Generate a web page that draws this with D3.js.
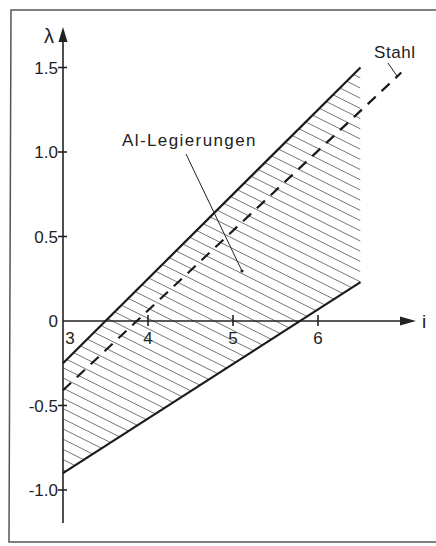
<!DOCTYPE html>
<html>
<head>
<meta charset="utf-8">
<script src="https://cdn.jsdelivr.net/npm/d3@7"></script>
<style>
  body { margin: 0; background: #fff; }
  text { font-family: "Liberation Sans", Arial, sans-serif; fill: #222; }
</style>
</head>
<body>
<svg></svg>
<script>
// chart data
const xTicks = [3, 4, 5, 6];
const yTicks = [-1.0, -0.5, 0, 0.5, 1.0, 1.5];
const yTickLabels = ['-1.0', '-0.5', '0', '0.5', '1.0', '1.5'];
const alUpper = [[3, -0.25], [6.5, 1.5]];   // upper edge of Al band
const alLower = [[3, -0.9], [6.5, 0.23]];   // lower edge of Al band
const stahl = [[3, -0.41], [6.98, 1.47]];    // dashed steel line

const size = {w: 436, h: 546};
const svg = d3.select('svg')
    .attr('width', size.w)
    .attr('height', size.h);

// scales: 3 sits on the y axis, 0 on the x axis
const x = d3.scaleLinear().domain([3, 6]).range([63, 318]);
const y = d3.scaleLinear().domain([0, 1.5]).range([321, 67.5]);

// outer frame (right side runs off the picture)
svg.append('path')
    .attr('d', 'M440,10 L11,10 L9,542 L440,542')
    .attr('fill', 'none')
    .attr('stroke', '#555')
    .attr('stroke-width', 1.5);

// hatched band between the two solid lines
const band = alUpper.concat(alLower.slice().reverse());
svg.append('clipPath').attr('id', 'bandClip')
    .append('polygon')
    .attr('points', band.map(d => [x(d[0]), y(d[1])].join(',')).join(' '));

const hatchG = svg.append('g').attr('clip-path', 'url(#bandClip)');
const x0 = x(3), x1 = x(6.5);
const slope = 0.5;   // hatch lines fall to the right
// y of each hatch line where it meets the y axis
let starts = d3.range(y(1.5) - slope * (x1 - x0) - 10, y(-0.9) + 10, 10.2);
hatchG.selectAll('line')
    .data(starts)
    .enter()
    .append('line')
    .attr('x1', x0)
    .attr('y1', d => d)
    .attr('x2', x1)
    .attr('y2', d => d + slope * (x1 - x0))
    .attr('stroke', '#666')
    .attr('stroke-width', 0.9);

// axes
const axisG = svg.append('g').attr('stroke', '#222').attr('stroke-width', 1.6);
axisG.append('line')
    .attr('x1', x(3)).attr('x2', x(3))
    .attr('y1', 523).attr('y2', 40);
axisG.append('line')
    .attr('x1', x(3)).attr('x2', 402)
    .attr('y1', y(0)).attr('y2', y(0));

svg.append('path')   // y arrow head
    .attr('d', `M${x(3)},27 L${x(3) - 4.5},42 L${x(3) + 4.5},42 Z`)
    .attr('fill', '#222');
svg.append('path')   // x arrow head
    .attr('d', `M416,${y(0)} L400,${y(0) - 4.5} L400,${y(0) + 4.5} Z`)
    .attr('fill', '#222');

// y ticks
yTicks.forEach(function (v, i) {
    if (v === 0) return;
    axisG.append('line')
        .attr('x1', x(3) - 5).attr('x2', x(3) + 4)
        .attr('y1', y(v)).attr('y2', y(v));
});
svg.selectAll('text.ytick')
    .data(yTicks)
    .enter()
    .append('text')
    .attr('class', 'ytick')
    .attr('x', 58)
    .attr('y', d => y(d) + 6)
    .attr('text-anchor', 'end')
    .style('font-size', '17px')
    .text((d, i) => yTickLabels[i]);

// x ticks
xTicks.slice(1).forEach(function (v) {
    axisG.append('line')
        .attr('x1', x(v)).attr('x2', x(v))
        .attr('y1', y(0) - 6).attr('y2', y(0) + 5);
});
svg.selectAll('text.xtick')
    .data(xTicks)
    .enter()
    .append('text')
    .attr('class', 'xtick')
    .attr('x', d => d === 3 ? x(d) + 7 : x(d))
    .attr('y', y(0) + 23)
    .attr('text-anchor', 'middle')
    .style('font-size', '17px')
    .text(d => d);

// axis names
svg.append('text').attr('x', 49).attr('y', 43)
    .attr('text-anchor', 'middle').style('font-size', '20px').text('λ');
svg.append('text').attr('x', 424).attr('y', y(0) + 7)
    .attr('text-anchor', 'middle').style('font-size', '19px').text('i');

// the boundary lines
const line = d3.line().x(d => x(d[0])).y(d => y(d[1]));
[alUpper, alLower].forEach(function (d) {
    svg.append('path')
        .attr('d', line(d))
        .attr('fill', 'none')
        .attr('stroke', '#1a1a1a')
        .attr('stroke-width', 2.2);
});
svg.append('path')
    .attr('d', line(stahl))
    .attr('fill', 'none')
    .attr('stroke', '#1a1a1a')
    .attr('stroke-width', 2.2)
    .attr('stroke-dasharray', '11,8');

// labels with leader lines
svg.append('text').attr('x', 122).attr('y', 146)
    .style('font-size', '17px').style('letter-spacing', '1.4px')
    .text('Al-Legierungen');
svg.append('line')
    .attr('x1', 186).attr('y1', 154).attr('x2', 242).attr('y2', 271)
    .attr('stroke', '#222').attr('stroke-width', 1);
svg.append('circle').attr('cx', 242).attr('cy', 271).attr('r', 1.6).attr('fill', '#222');

svg.append('text').attr('x', 374).attr('y', 58)
    .style('font-size', '17px').style('letter-spacing', '0.6px')
    .text('Stahl');
svg.append('line')
    .attr('x1', 388).attr('y1', 63).attr('x2', 397).attr('y2', 76)
    .attr('stroke', '#222').attr('stroke-width', 1);
</script>
</body>
</html>
